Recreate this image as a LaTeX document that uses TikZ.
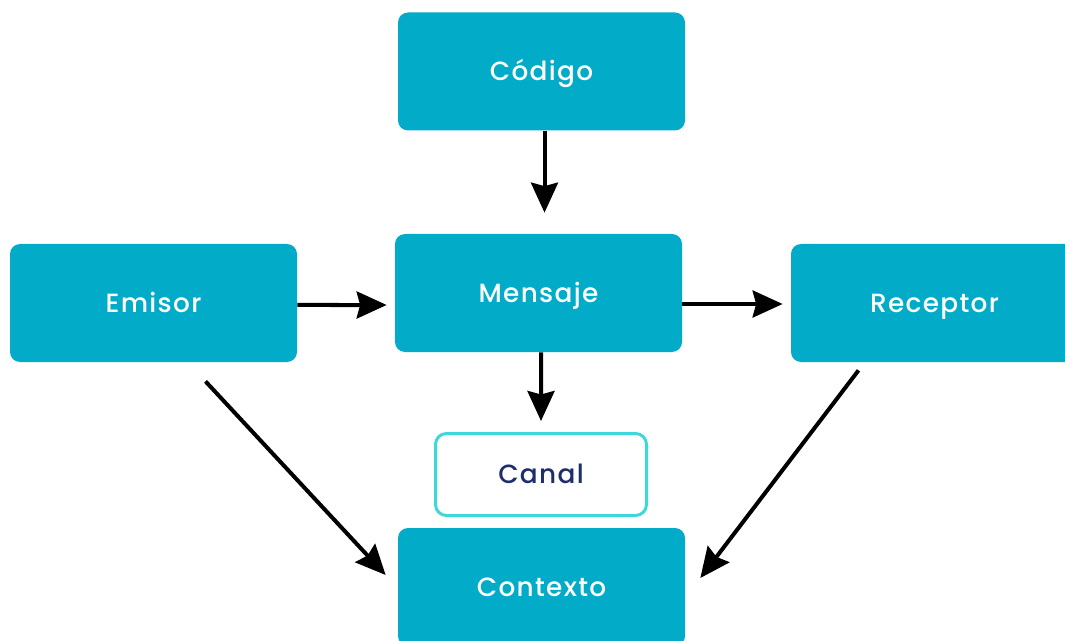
\documentclass[tikz,border=0pt]{standalone}
\usepackage{fontspec}
\setmainfont{Poppins}[UprightFont=* Medium, LetterSpace=5]
\usetikzlibrary{arrows.meta}

\definecolor{boxblue}{HTML}{02ABC8}
\definecolor{canalline}{HTML}{3ED8DA}
\definecolor{canaltext}{HTML}{1C2F6B}

\tikzset{
    bloque/.style={fill=boxblue, rounded corners=0.2cm, minimum width=5.74cm, minimum height=2.36cm, text=white, font=\fontsize{15}{18}\selectfont, text height=14pt, text depth=3.2pt},
    canalbox/.style={draw=canalline, line width=0.06cm, fill=white, rounded corners=0.22cm, minimum width=4.22cm, minimum height=1.64cm, text=canaltext, font=\fontsize{15}{18}\selectfont, text height=14pt, text depth=3.2pt},
    flecha/.style={line width=0.08cm, -{Stealth[length=0.6cm, width=0.54cm, inset=0.07cm]}}
}

\begin{document}
\begin{tikzpicture}
    \clip (0,0) rectangle (21.3,-12.82);
    % cajas
    \node[bloque] (codigo) at (10.83,-1.43) {Código};
    \node[bloque] (emisor) at (3.07,-6.06) {Emisor};
    \node[bloque] (mensaje) at (10.77,-5.86) {Mensaje};
    \node[bloque] (receptor) at (18.69,-6.06) {Receptor};
    \node[canalbox] (canal) at (10.82,-9.49) {Canal};
    \node[bloque] (contexto) at (10.83,-11.74) {Contexto};
    % flechas
    \draw[flecha] ([xshift=0.06cm]codigo.south) -- ([xshift=0.12cm, yshift=0.42cm]mensaje.north);
    \draw[flecha] ([yshift=-0.04cm]emisor.east) -- ([xshift=-0.16cm, yshift=-0.24cm]mensaje.west);
    \draw[flecha] ([yshift=-0.22cm]mensaje.east) -- ([xshift=-0.16cm, yshift=-0.02cm]receptor.west);
    \draw[flecha] ([xshift=0.05cm]mensaje.south) -- ([yshift=0.22cm]canal.north);
    \draw[flecha] ([shift={(1.04,-0.38)}]emisor.south) -- ([shift={(-0.24,0.24)}]contexto.west);
    \draw[flecha] ([shift={(-1.52,-0.16)}]receptor.south) -- ([shift={(0.3,0.18)}]contexto.east);

\end{tikzpicture}
\end{document}
